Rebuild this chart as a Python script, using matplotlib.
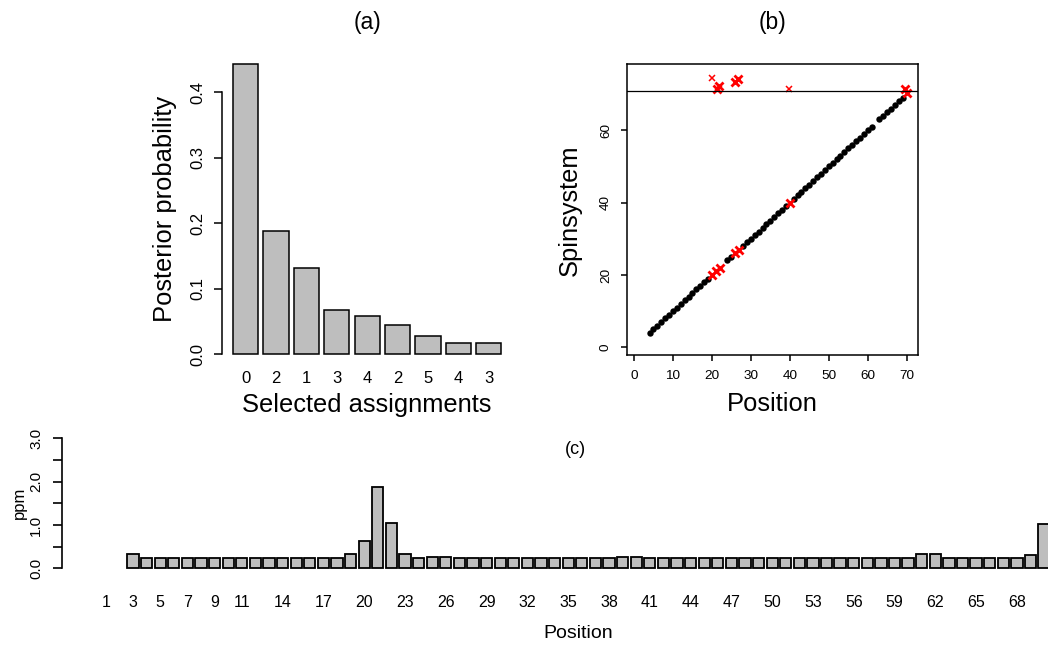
import matplotlib
matplotlib.use("Agg")
import matplotlib.pyplot as plt
import numpy as np

plt.rcParams['font.family'] = ['Liberation Sans', 'DejaVu Sans']

# ---------------- data ----------------
# (a) posterior probability of selected assignments
a_labels = ['0', '2', '1', '3', '4', '2', '5', '4', '3']
a_probs = [0.443, 0.188, 0.132, 0.067, 0.059, 0.044, 0.0285, 0.018, 0.0177]

# (b) spinsystem vs position
dot_pos = [4, 5, 6, 7, 8, 9, 10, 11, 12, 13, 14, 15, 16, 17, 18, 19,
           24, 25, 28, 29, 30, 31, 32, 33, 34, 35, 36, 37, 38, 39,
           41, 42, 43, 44, 45, 46, 47, 48, 49, 50, 51, 52, 53, 54, 55,
           56, 57, 58, 59, 60, 61, 63, 64, 65, 66, 67, 68, 69]
dot_spin = [4, 5, 6, 7, 8, 9, 10, 11, 12, 13, 14, 15, 16, 17, 18, 19,
            24, 25, 28, 29, 30, 31, 32, 33, 34, 35, 36, 37, 38, 39,
            41, 42, 43, 44, 45, 46, 47, 48, 49, 50, 51, 52, 53, 54, 55,
            56, 57, 58, 59, 60, 61, 63, 64, 65, 66, 67, 68, 69]
cross_thick_pos = [20, 21, 22, 26, 27, 40, 70, 21.2, 21.8, 25.9, 26.8, 69.6]
cross_thick_spin = [20, 21, 22, 26, 27, 40, 70.2, 71.3, 72.2, 73.4, 74.2, 71.3]
cross_thin_pos = [20.0, 39.9]
cross_thin_spin = [74.4, 71.3]
hline_spin = 70.8

# (c) ppm per position
c_positions = [3, 4, 5, 6, 7, 8, 9, 10, 11, 12, 13, 14, 15, 16, 17, 18, 19, 20,
               21, 22, 23, 24, 25, 26, 27, 28, 29, 30, 31, 32, 33, 34, 35, 36,
               37, 38, 39, 40, 41, 42, 43, 44, 45, 46, 47, 48, 49, 50, 51, 52,
               53, 54, 55, 56, 57, 58, 59, 60, 61, 62, 63, 64, 65, 66, 67, 68,
               69, 70]
c_ppm = [0.33, 0.23, 0.23, 0.23, 0.23, 0.23, 0.23, 0.23, 0.23, 0.23,   # 3-12
         0.23, 0.23, 0.23, 0.23, 0.23, 0.23, 0.34, 0.64, 1.87, 1.04,   # 13-22
         0.33, 0.23, 0.26, 0.27, 0.24, 0.23, 0.23, 0.23, 0.23, 0.23,   # 23-32
         0.23, 0.23, 0.23, 0.23, 0.23, 0.23, 0.25, 0.25, 0.23, 0.23,   # 33-42
         0.23, 0.23, 0.23, 0.23, 0.23, 0.23, 0.23, 0.23, 0.23, 0.23,   # 43-52
         0.23, 0.23, 0.23, 0.23, 0.23, 0.23, 0.23, 0.23, 0.33, 0.33,   # 53-62
         0.23, 0.23, 0.23, 0.23, 0.23, 0.23, 0.30, 1.02]               # 63-70
c_ticklabels = [1, 3, 5, 7, 9, 11, 14, 17, 20, 23, 26, 29, 32, 35, 38, 41,
                44, 47, 50, 53, 56, 59, 62, 65, 68]

# ---------------- figure ----------------
W, H = 1048, 645
fig = plt.figure(figsize=(W / 100, H / 100), dpi=100)


def rect(l, t, r, b):
    return [l / W, 1 - b / H, (r - l) / W, (b - t) / H]


def ftext(x, y, s, **kw):
    fig.text(x / W, 1 - y / H, s, ha='center', va='center', **kw)


GREY = '#BEBEBE'

# ---- (a)
ax_a = fig.add_axes(rect(222.3, 52.7, 512.1, 365.9))
xa = np.arange(1, len(a_probs) + 1)
ax_a.bar(xa, a_probs, width=1 / 1.2, color=GREY, edgecolor='black', linewidth=1.1)
ax_a.set_xlim(0.23, 9.77)
ax_a.set_ylim(-0.0177, 0.4604)
for s in ['top', 'right', 'bottom']:
    ax_a.spines[s].set_visible(False)
ax_a.spines['left'].set_bounds(0, 0.4)
ax_a.spines['left'].set_linewidth(1.1)
ax_a.set_yticks([0, 0.1, 0.2, 0.3, 0.4])
ax_a.set_yticklabels(['0.0', '0.1', '0.2', '0.3', '0.4'], rotation=90, va='center')
ax_a.set_xticks(xa)
ax_a.set_xticklabels(a_labels)
ax_a.tick_params(axis='y', length=6, width=1.1, labelsize=12, pad=6)
ax_a.tick_params(axis='x', length=0, labelsize=12, pad=4)
ftext(367.5, 22, '(a)', fontsize=16.5)
ftext(165, 209, 'Posterior probability', fontsize=18.4, rotation=90)
ftext(367, 405, 'Selected assignments', fontsize=18.4)

# ---- (b)
ax_b = fig.add_axes(rect(627.3, 64.3, 917.7, 355))
ax_b.plot(dot_pos, dot_spin, 'o', color='black', markersize=4.6, markeredgewidth=0)
ax_b.plot(cross_thick_pos, cross_thick_spin, 'x', color='red', markersize=5.5,
          markeredgewidth=2.0, linestyle='none')
ax_b.plot(cross_thin_pos, cross_thin_spin, 'x', color='red', markersize=4.5,
          markeredgewidth=1.1, linestyle='none')
ax_b.axhline(hline_spin, color='black', linewidth=0.9)
ax_b.set_xlim(-1.72, 72.84)
ax_b.set_ylim(-2.13, 78.24)
ax_b.set_xticks([0, 10, 20, 30, 40, 50, 60, 70])
ax_b.set_yticks([0, 20, 40, 60])
ax_b.set_yticklabels(['0', '20', '40', '60'], rotation=90, va='center')
ax_b.tick_params(length=4.1, width=1.1, labelsize=9.7, pad=7)
for s in ax_b.spines.values():
    s.set_linewidth(1.1)
ftext(772.5, 22, '(b)', fontsize=16.5)
ftext(570, 210, 'Spinsystem', fontsize=18.4, rotation=90)
ftext(772, 404, 'Position', fontsize=18.4)

# ---- (c)
ax_c = fig.add_axes(rect(62.2, 432.8, 1087.8, 573.2))
ax_c.bar(c_positions, c_ppm, width=1 / 1.2, color=GREY, edgecolor='black', linewidth=1.3)
ax_c.set_xlim(-2.208, 73.21)
ax_c.set_ylim(-0.113, 3.13)
for s in ['top', 'right', 'bottom']:
    ax_c.spines[s].set_visible(False)
ax_c.spines['left'].set_bounds(0, 3.0)
ax_c.spines['left'].set_linewidth(1.2)
ax_c.set_yticks([0, 0.5, 1.0, 1.5, 2.0, 2.5, 3.0])
ax_c.set_yticklabels(['0.0', '', '1.0', '', '2.0', '', '3.0'], rotation=90, va='center')
ax_c.set_xticks(c_ticklabels)
ax_c.set_xticklabels([str(v) for v in c_ticklabels])
ax_c.tick_params(axis='y', length=6.8, width=1.2, labelsize=11, pad=7)
ax_c.tick_params(axis='x', length=0, labelsize=11.5, pad=16)
ftext(575, 449, '(c)', fontsize=13)
ftext(19, 503, 'ppm', fontsize=12, rotation=90)
ftext(578, 634, 'Position', fontsize=14)

fig.savefig('out.png', dpi=100)
